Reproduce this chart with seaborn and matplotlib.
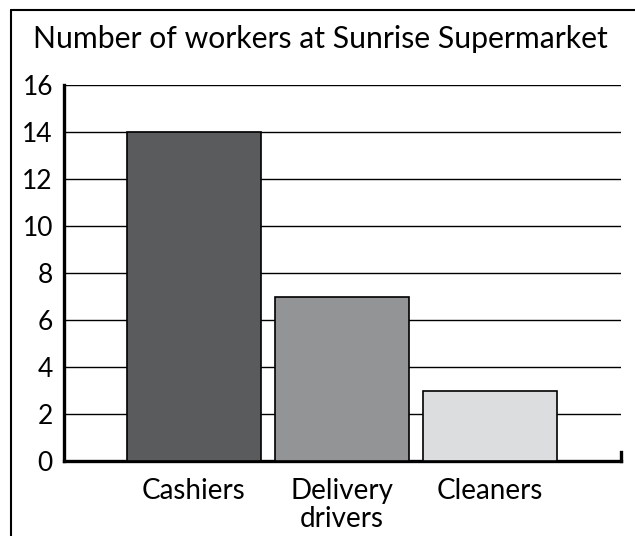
import matplotlib
matplotlib.use("Agg")
import matplotlib.pyplot as plt
from matplotlib.lines import Line2D
import seaborn as sns
import pandas as pd

# data
jobs = ["Cashiers", "Delivery\ndrivers", "Cleaners"]
workers = [14, 7, 3]
bar_colors = ["#5a5b5d", "#939497", "#dcdddf"]
y_ticks = [0, 2, 4, 6, 8, 10, 12, 14, 16]
title = "Number of workers at Sunrise Supermarket"

sns.set_theme(style="white")
plt.rcParams["font.family"] = ["Lato", "DejaVu Sans"]

df = pd.DataFrame({"job": jobs, "workers": workers})

fig = plt.figure(figsize=(6.35, 5.36), dpi=100)
ax = fig.add_axes([0.1008, 0.1399, 0.8772, 0.7015])

sns.barplot(data=df, x="job", y="workers", hue="job", palette=bar_colors,
            width=0.9, edgecolor="black", linewidth=1.2, legend=False,
            zorder=3, ax=ax)

ax.set_ylim(0, 16)
ax.set_xlim(-0.878, 2.885)
ax.set_yticks(y_ticks)
ax.yaxis.grid(True, color="black", linewidth=1.0, zorder=0)
ax.set_axisbelow(True)
ax.tick_params(axis="y", length=0, labelsize=19, colors="black", pad=8)
ax.tick_params(axis="x", length=0, labelsize=20, colors="black", pad=12)
ax.set_xlabel("")
ax.set_ylabel("")
for lbl in ax.get_xticklabels():
    lbl.set_linespacing(1.1)

for side in ["left", "bottom"]:
    ax.spines[side].set_visible(True)
    ax.spines[side].set_color("black")
    ax.spines[side].set_linewidth(2.4)
ax.spines["top"].set_visible(False)
ax.spines["right"].set_visible(True)
ax.spines["right"].set_color("black")
ax.spines["right"].set_linewidth(2.4)
ax.spines["right"].set_bounds(0, 0.4)

fig.text(33 / 635, 1 - 48 / 536, title, fontsize=21.7, color="black",
         ha="left", va="baseline")

# frame around the figure (left and top edges)
fig.add_artist(Line2D([11 / 635, 11 / 635], [0, 1 - 10 / 536], color="black",
                      linewidth=1.5, transform=fig.transFigure))
fig.add_artist(Line2D([11 / 635, 1], [1 - 10 / 536, 1 - 10 / 536], color="black",
                      linewidth=1.5, transform=fig.transFigure))

fig.savefig("out.png", dpi=100, facecolor="white")
